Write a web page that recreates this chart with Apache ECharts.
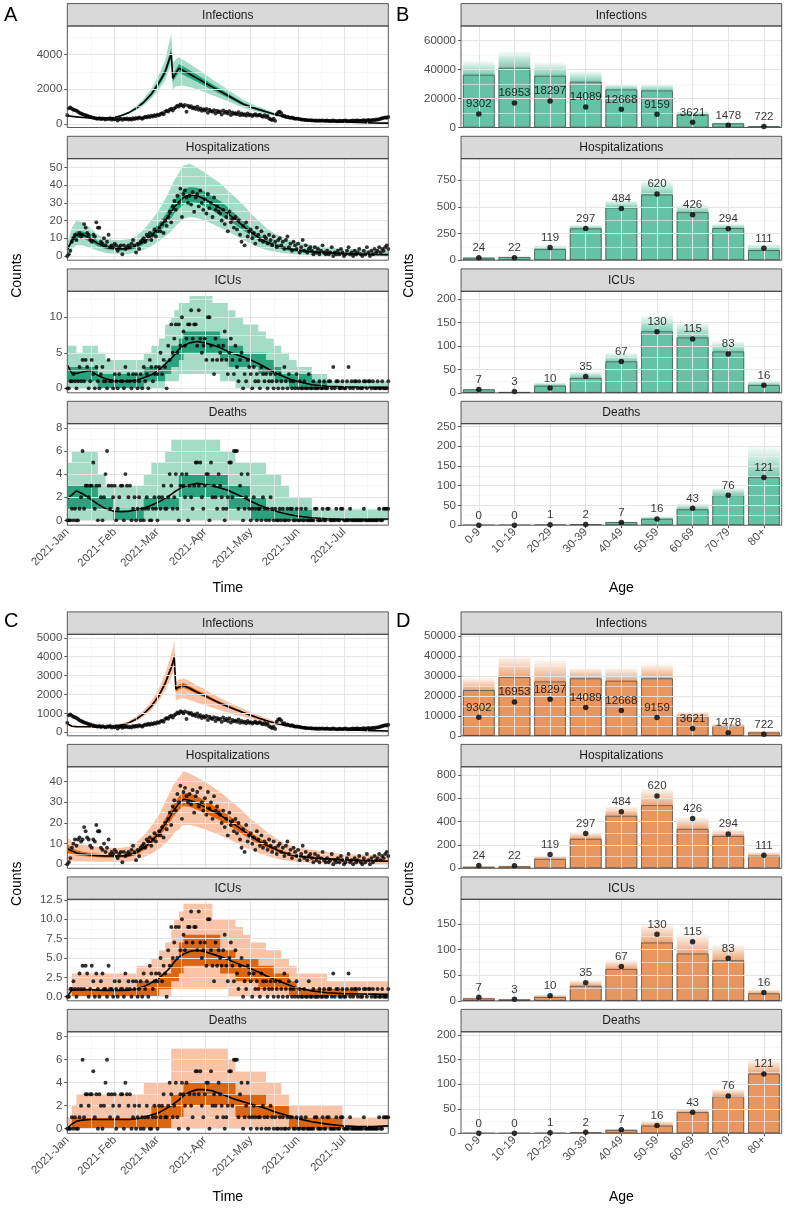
<!DOCTYPE html>
<html><head><meta charset="utf-8">
<script src="https://cdn.jsdelivr.net/npm/echarts@6/dist/echarts.min.js"></script>
<style>html,body{margin:0;padding:0;background:#fff}#c{width:786px;height:1209px}</style>
</head><body><div id="c"></div>
<script>
// ---------------- DATA ----------------
const panelNames = ['Infections', 'Hospitalizations', 'ICUs', 'Deaths'];
const ageGroups = ['0-9', '10-19', '20-29', '30-39', '40-49', '50-59', '60-69', '70-79', '80+'];
const monthStartDays = [0, 31, 59, 90, 120, 151, 181, 212];   // days since 2021-01-01
const monthLabels = ['2021-Jan', '2021-Feb', '2021-Mar', '2021-Apr', '2021-May', '2021-Jun', '2021-Jul'];

// observed daily counts, day 0 = 2021-01-01
const obsInfections = [
500,900,950,880,820,800,760,700,640,600, 560,520,500,470,430,420,380,360,340,320,
300,340,280,320,300,260,310,290,330,250, 300,270,320,200,290,310,240,300,280,320,
260,300,250,330,290,350,310,380,340,300, 360,420,380,450,400,470,430,500,460,540,
500,580,620,560,700,760,720,820,880,780, 900,960,1050,1000,1120,1080,1000,1100,700,1050,
980,1020,900,950,860,1000,820,900,760,850, 780,860,650,820,740,700,800,600,760,680,
720,550,780,640,700,600,740,520,660,580, 620,560,680,500,600,520,560,480,600,500,
540,460,520,560,480,500,540,460,420,500, 400,460,320,280,220,300,180,560,680,700,
620,460,480,400,420,380,350,370,330,300, 310,300,280,260,250,240,230,220,210,220,
200,210,190,200,180,200,190,210,180,190, 200,180,170,190,200,180,170,160,190,180,
170,190,200,180,160,170,190,200,180,200, 210,190,180,200,220,190,210,230,200,220,
240,220,260,250,280,300,330,350,380,360,400];
const obsHospitalizations = [
0,1,3,8,10,12,9,12,13,11, 12,18,16,13,12,9,8,12,11,19, 16,16,8,7,10,6,8,12,5,6,
5,7,6,3,5,6,1,6,4,5, 6,5,7,9,6,2,7,4,8,9, 10,8,12,11,13,9,12,15,11,14,
16,14,18,13,20,17,22,25,19,28, 31,26,34,30,38,22,35,37,33,30, 34,29,36,25,33,35,28,37,30,26,
32,24,35,27,30,22,33,26,28,25, 24,20,26,18,22,14,25,19,21,16, 22,15,20,12,8,17,6,19,11,14,
15,10,13,7,16,12,9,14,8,11, 10,7,12,9,6,11,8,5,9,10, 6,8,4,9,11,5,7,3,8,6,
4,7,2,5,9,3,6,2,4,5, 3,1,5,2,4,1,3,6,2,1, 3,1,2,5,0,2,1,3,1,4,
2,0,1,3,5,1,2,0,3,1, 2,4,1,0,3,1,5,2,0,3, 1,4,2,3,5,2,4,3,5,6,4];
const obsICUs = [
0,0,1,1,2,1,0,1,3,1, 4,1,4,3,0,1,4,2,0,3, 1,0,2,3,1,1,0,4,1,1,
0,2,1,0,2,1,1,0,3,1, 2,1,0,2,1,2,0,1,2,0, 3,1,2,0,4,3,1,2,3,2,
3,5,2,4,3,0,6,4,9,5, 7,9,5,9,6,10,8,6,7,9, 9,11,7,9,9,6,11,7,5,6,
7,4,10,10,6,4,2,7,4,6, 5,4,6,8,4,2,5,7,4,2, 6,3,1,4,5,0,2,1,4,3,
2,0,3,1,2,1,0,3,2,1, 2,0,1,2,1,0,2,1,0,2, 1,0,3,1,0,2,1,0,1,0,
2,0,1,0,0,1,0,0,2,0, 0,1,0,0,0,1,0,0,1,0, 0,1,1,0,3,0,1,1,0,0,
1,0,0,1,3,0,1,0,1,1, 0,1,0,0,1,1,0,1,1,0, 1,0,0,1,0,0,1,0,0,0,1];
const obsDeaths = [
0,0,0,1,0,1,0,0,1,2, 6,1,3,3,2,3,3,5,1,3, 0,3,2,0,2,4,6,3,1,3,
2,3,0,1,2,3,3,0,4,3, 2,3,0,1,2,0,1,2,0,1, 0,1,2,1,0,0,1,2,1,0,
2,1,2,3,1,1,2,4,3,1, 2,4,1,0,3,4,3,2,4,0, 3,2,1,3,5,5,3,5,2,1,
3,4,4,0,5,2,3,2,1,4, 3,2,1,0,1,2,5,5,2,6, 6,6,1,3,4,0,1,2,4,1,
0,1,2,1,0,1,1,0,2,1, 0,1,0,2,1,0,1,0,0,1, 0,1,0,0,1,0,1,1,0,0,
1,0,0,1,0,0,1,0,0,0, 0,0,1,1,0,0,0,1,0,0, 1,1,0,0,0,0,1,0,0,1,
1,0,0,0,0,1,0,0,0,0, 0,0,0,0,1,0,0,0,0,0, 0,0,0,0,1,0,0,1,1,1,1];

// model summaries sampled on these days
const modelDays = [0,3,6,10,15,20,25,30,35,40, 45,50,55,60,64,68,69,70,71,73, 76,80,85,90,95,100,105,110,115,120, 125,130,135,140,145,150,160,170,180,190, 200,210];

// Panel A (model 1)
const aInfMed  = [470,440,410,375,345,330,335,360,470,640, 900,1250,1720,2370,3000,4050,2630,2780,2920,3200, 3060,2870,2620,2370,2120,1880,1640,1390,1150,980, 840,700,570,460,380,310,210,150,115,85, 65,50];
const aInfLo50 = [455,425,398,363,335,320,325,348,445,600, 845,1170,1610,2210,2790,3760,2420,2560,2690,2950, 2820,2640,2410,2180,1950,1730,1510,1280,1060,900, 775,645,525,425,350,285,194,138,106,78, 60,46];
const aInfHi50 = [485,455,422,387,355,340,345,372,495,680, 955,1330,1830,2530,3210,4340,2840,3000,3150,3450, 3300,3100,2830,2560,2290,2030,1770,1500,1240,1060, 905,755,615,495,410,335,226,162,124,92, 70,54];
const aInfLo95 = [440,412,385,352,325,310,315,335,425,570, 790,1080,1470,2000,2500,3450,2000,2080,2150,2200, 2200,2120,1990,1825,1650,1480,1310,1120,935,800, 690,580,475,385,320,262,178,127,97,71, 54,41];
const aInfHi95 = [500,470,440,400,368,352,358,390,520,720, 1030,1450,2030,2850,3650,5200,3500,3600,3700,3830, 3680,3460,3160,2860,2560,2270,1980,1680,1390,1180, 1010,840,680,550,450,365,245,175,135,100, 76,58];

const aHospMed  = [3.5,9,12,12,10,7,5,4.3,4,4.3, 5.5,8,11.5,16,20,25,26,27.5,28.5,30.5, 33,34.5,34,32,29.5,27,24,20.5,17,13.5, 10.5,8,6.3,5,4,3.3,2.4,1.8,1.4,1.1, 0.9,0.8];
const aHospLo50 = [2.5,7,10,10,8,5.5,4,3.3,3,3.3, 4.3,6.5,9.5,13.5,17,21.5,22.5,24,25,26.5, 29,30.5,30,28,25.5,23,20.5,17.5,14.5,11.5, 8.8,6.6,5,3.9,3,2.4,1.6,1.1,0.8,0.6, 0.4,0.3];
const aHospHi50 = [4.5,11,14,14,12,8.5,6.3,5.4,5,5.4, 6.8,9.7,13.6,18.7,23.2,28.8,29.8,31.5,32.5,35, 37.5,39,38.5,36.3,33.5,31,27.5,23.7,19.7,15.7, 12.3,9.5,7.6,6.1,5,4.2,3.2,2.5,2,1.6, 1.3,1.2];
const aHospLo95 = [1,4,6,6,4.5,3,1.8,1.3,1.2,1.3, 2,3.5,5.5,8.5,11,14,15,16,17,18.5, 21,22,21.5,20,18,16,14,11.5,9,7, 5,3.5,2.5,1.8,1.2,0.8,0.3,0.1,0,0, 0,0];
const aHospHi95 = [7,16,20,19,16,12,10,9,9,9.5, 11,15,20,26,32,39,41,43,44,47, 51,52,50,47,44,41,37,33,29,24, 20,16,13,11,9,8,6,5,4,4, 3,3];

const aIcuMed  = [3.3,2.1,2.1,2.3,2.5,1.8,1.35,1.1,1.0,1.0, 1.15,1.5,1.9,2.6,3.4,4.2,4.4,4.7,4.9,5.5, 6.0,6.4,6.6,6.4,6.1,5.7,5.2,4.8,4.4,4.0, 3.5,2.9,2.3,1.8,1.35,1.0,0.5,0.3,0.22,0.18, 0.15,0.15];
const aIcuLo50 = [1,1,1,1,1,0,0,0,0,0, 0,1,1,1,2,3,3,3,3,4, 5,5,5,5,5,4,3,3,3,3, 2,2,1,1,0,0,0,0,0,0, 0,0];
const aIcuHi50 = [3,3,3,3,3,2,2,2,2,2, 2,3,3,3,4,6,6,6,6,7, 8,8,8,8,8,7,6,6,5,5, 5,4,3,2,2,2,1,0,0,0, 0,0];
const aIcuLo95 = [0,0,0,0,0,0,0,0,0,0, 0,0,0,0,1,1,1,1,1,2, 2,2,2,2,2,1,1,0,0,0, 0,0,0,0,0,0,0,0,0,0, 0,0];
const aIcuHi95 = [6,6,5,6,6,5,4,4,4,4, 4,5,6,7,9,10,10,11,11,12, 12,13,13,13,12,12,11,10,9,9, 8,7,6,5,4,3,2,1,1,1, 1,1];

const aDeathMed  = [1.85,2.2,2.55,2.3,1.85,1.4,1.0,0.8,0.75,0.78, 0.9,1.05,1.3,1.6,1.9,2.25,2.35,2.45,2.5,2.7, 2.9,3.05,3.2,3.1,3.0,2.8,2.6,2.3,2.0,1.65, 1.35,1.1,0.85,0.65,0.5,0.38,0.22,0.14,0.1,0.1, 0.1,0.12];
const aDeathLo50 = [1,1,1,1,1,1,1,0,0,0, 0,1,1,1,1,1,1,1,1,2, 2,2,2,2,2,2,1,1,1,0, 0,0,0,0,0,0,0,0,0,0, 0,0];
const aDeathHi50 = [3,3,3,3,3,2,2,1,1,1, 1,2,2,2,2,2,2,2,2,4, 4,4,4,4,4,4,3,3,3,2, 2,1,1,1,1,1,0,0,0,0, 0,0];
const aDeathLo95 = [0,0,0,0,0,0,0,0,0,0, 0,0,0,0,0,0,0,0,0,0, 0,0,0,0,0,0,0,0,0,0, 0,0,0,0,0,0,0,0,0,0, 0,0];
const aDeathHi95 = [5,6,6,6,6,4,3,3,3,3, 3,4,5,5,6,7,7,7,7,7, 7,7,7,7,7,6,6,5,5,5, 5,4,4,3,2,2,1,1,1,1, 1,1];

// Panel C (model 2)
const cInfMed  = [450,320,300,295,290,285,290,320,380,490, 690,980,1380,1950,2590,3430,3680,3950,2280,2400, 2480,2330,2120,1940,1730,1540,1370,1210,1050,900, 760,625,500,410,340,285,215,170,140,115, 90,70];
const cInfLo50 = [428,304,285,280,276,271,276,304,361,466, 656,931,1311,1853,2460,3260,3500,3750,2150,2270, 2350,2210,2010,1840,1640,1460,1300,1150,1000,855, 722,594,475,390,323,271,204,162,133,109, 86,67];
const cInfHi50 = [472,336,315,310,305,299,305,336,399,515, 725,1029,1449,2048,2720,3600,3860,4150,2410,2530, 2610,2450,2230,2040,1820,1620,1440,1270,1100,945, 798,656,525,430,357,299,226,178,147,121, 94,73];
const cInfLo95 = [380,280,270,265,260,255,260,285,335,420, 590,830,1170,1650,2200,2900,3100,3300,1700,1760, 1800,1710,1570,1450,1300,1170,1050,935,820,710, 600,500,405,335,280,235,178,140,116,95, 74,57];
const cInfHi95 = [520,370,350,345,340,335,340,380,450,590, 830,1180,1660,2340,3110,4130,4450,4880,2680,2800, 2860,2700,2470,2270,2030,1810,1620,1430,1250,1080, 915,755,605,495,410,345,260,205,170,140, 110,86];

const cHospMed  = [7.5,6.5,5.5,5,4.5,4.2,4,4,4,4.2, 5.5,8,11,15,19.5,24,25.5,26.5,27.5,29.5, 31.5,31,29.5,27.8,25.8,23.8,21.5,19,16.3,13.7, 11.3,9.3,7.6,6,4.8,4,3.2,2.6,2.2,1.9, 1.7,1.5];
const cHospLo50 = [5.5,5,4.3,4,3.6,3.4,3.2,3.2,3.2,3.4, 4.5,6.8,9.5,13.2,17.2,21.3,22.7,23.6,24.5,26.3, 28.2,27.8,26.4,24.8,23,21.2,19.1,16.8,14.3,12, 9.8,8,6.5,5.1,4,3.3,2.6,2.1,1.7,1.5, 1.3,1.1];
const cHospHi50 = [9.5,8,6.8,6.1,5.5,5.1,4.9,4.9,4.9,5.1, 6.6,9.3,12.6,17,22,26.8,28.4,29.5,30.6,32.8, 35,34.4,32.8,30.9,28.7,26.5,24,21.3,18.3,15.4, 12.8,10.6,8.7,6.9,5.6,4.8,3.9,3.2,2.8,2.4, 2.2,2];
const cHospLo95 = [1,1.5,1.5,1.5,1.3,1.2,1.2,1.2,1.2,1.3, 2,3.5,5,7.5,10,13,14,15,16,17, 19,19,18,17,15.5,14,12.5,10.5,8.5,7, 5.5,4.2,3,2.2,1.6,1.2,0.8,0.5,0.3,0.2, 0.2,0.1];
const cHospHi95 = [13,11,10,9.5,9,8.5,8,8,8,8.5, 10.5,14,18.5,24,30,36,38,39,40,42, 45,44,42,40,37.5,35,32,29,25.5,22, 19,16,13.5,11,9.5,8,7,6,5,5, 4.5,4];

const cIcuMed  = [0.05,0.85,0.9,0.9,0.9,0.85,0.82,0.8,0.8,0.85, 1.0,1.3,1.8,2.4,3.1,3.9,4.2,4.5,4.7,5.1, 5.5,5.85,6.0,5.8,5.5,5.2,4.8,4.4,4.0,3.6, 3.2,2.7,2.3,1.9,1.5,1.15,0.75,0.5,0.4,0.35, 0.33,0.3];
const cIcuLo50 = [0,0,0,0,0,0,0,0,0,0, 0,0,0,1,1,2,2,2,2,3, 4,4,4,4,4,3,3,2,2,2, 1,1,1,1,0,0,0,0,0,0, 0,0];
const cIcuHi50 = [0,1,1,1,1,1,1,1,1,1, 2,2,2,3,3,5,5,5,5,7, 8,8,8,8,8,6,6,5,5,5, 4,4,3,3,2,1,1,1,1,0, 0,0];
const cIcuLo95 = [0,0,0,0,0,0,0,0,0,0, 0,0,0,0,0,1,1,1,1,1, 1,1,1,1,1,1,0,0,0,0, 0,0,0,0,0,0,0,0,0,0, 0,0];
const cIcuHi95 = [1,3,3,3,3,3,3,3,3,3, 4,4,5,6,7,9,9,10,10,11, 12,12,12,12,10,10,10,9,8,7, 7,6,6,5,4,3,3,2,2,2, 2,2];

const cDeathMed  = [0.05,0.4,0.65,0.75,0.8,0.8,0.8,0.8,0.8,0.8, 0.85,1.0,1.2,1.4,1.7,2.0,2.1,2.2,2.3,2.5, 2.85,3.2,3.4,3.4,3.3,3.05,2.8,2.55,2.35,2.15, 1.95,1.75,1.5,1.3,1.1,0.9,0.6,0.4,0.25,0.18, 0.18,0.25];
const cDeathLo50 = [0,0,0,0,0,0,0,0,0,0, 0,0,0,0,0,1,1,1,1,1, 2,2,2,2,2,2,2,1,1,1, 1,1,1,1,0,0,0,0,0,0, 0,0];
const cDeathHi50 = [0,1,1,1,1,1,1,1,1,1, 1,1,2,2,2,3,3,3,3,3, 4,4,4,4,4,4,4,3,3,3, 3,2,2,2,1,1,1,1,0,0, 0,0];
const cDeathLo95 = [0,0,0,0,0,0,0,0,0,0, 0,0,0,0,0,0,0,0,0,0, 0,0,0,0,0,0,0,0,0,0, 0,0,0,0,0,0,0,0,0,0, 0,0];
const cDeathHi95 = [1,2,3,3,3,3,3,3,3,3, 3,4,4,4,4,7,7,7,7,7, 7,7,7,7,7,7,6,5,5,5, 5,4,4,3,2,2,2,2,1,1, 1,1];

// observed totals by age
const obsAgeInfections = [9302, 16953, 18297, 14089, 12668, 9159, 3621, 1478, 722];
const obsAgeHospitalizations = [24, 22, 119, 297, 484, 620, 426, 294, 111];
const obsAgeICUs = [7, 3, 10, 35, 67, 130, 115, 83, 16];
const obsAgeDeaths = [0, 0, 1, 2, 7, 16, 43, 76, 121];

// Panel B: model 1 by age (mean, and upper reach of posterior samples)
const bInfMean = [36350, 41170, 35650, 31500, 26200, 25500, 8970, 2760, 900];
const bInfTop  = [45700, 52600, 44800, 38800, 29700, 29700, 11200, 3650, 1200];
const bHospMean = [22, 30, 103, 297, 493, 615, 449, 300, 94];
const bHospTop  = [30, 35, 140, 330, 560, 740, 520, 340, 150];
const bIcuMean = [7.2, 1.5, 15, 31.5, 67, 131, 118, 88, 16.5];
const bIcuTop  = [9, 3, 22, 45, 85, 165, 150, 110, 25];
const bDeathMean = [0.2, 0.2, 1, 2, 7.6, 16, 40, 76, 122];
const bDeathTop  = [0.5, 0.5, 2, 4, 10, 22, 55, 95, 200];
// Panel D: model 2 by age
const dInfMean = [22850, 29350, 27150, 28700, 27500, 28700, 9650, 4850, 1650];
const dInfTop  = [29000, 40000, 38000, 34000, 34000, 36000, 12000, 6000, 2500];
const dHospMean = [12, 17, 80, 252, 449, 540, 337, 277, 106];
const dHospTop  = [20, 25, 110, 310, 530, 680, 440, 330, 140];
const dIcuMean = [4.5, 2.5, 7.3, 29, 62, 113.6, 92, 79, 14.4];
const dIcuTop  = [7, 4, 12, 40, 80, 150, 130, 110, 22];
const dDeathMean = [0.2, 0.2, 0.5, 1.5, 6.8, 15.5, 43, 75.5, 121.6];
const dDeathTop  = [0.5, 0.5, 1, 3, 9, 25, 50, 90, 150];

// tick labels
const aInfTicks = [0, 2000, 4000], aHospTicks = [0, 10, 20, 30, 40, 50], aIcuTicks = [0, 5, 10], aDeathTicks = [0, 2, 4, 6, 8];
const cInfTicks = [0, 1000, 2000, 3000, 4000, 5000], cHospTicks = [0, 10, 20, 30, 40], cIcuTicks = [0, 2.5, 5, 7.5, 10, 12.5], cDeathTicks = [0, 2, 4, 6, 8];
const bInfTicks = [0, 20000, 40000, 60000], bHospTicks = [0, 250, 500, 750], bIcuTicks = [0, 50, 100, 150, 200], bDeathTicks = [0, 50, 100, 150, 200, 250];
const dInfTicks = [0, 10000, 20000, 30000, 40000, 50000], dHospTicks = [0, 200, 400, 600, 800], dIcuTicks = [0, 50, 100, 150], dDeathTicks = [0, 50, 100, 150, 200];

// ---------------- LAYOUT / STYLE ----------------
const FONT = '"Liberation Sans", Arial, Helvetica, sans-serif';
const colX = [67.3, 461];
const PW = [321, 320.7];
const PH = 101.5, SH = 22.4;
const rowTops = [[26, 158.7, 291.3, 423.7], [634.3, 766.8, 899.3, 1031.8]];
const XMAX = 210;
const MAJOR = '#e4e4e4', MINOR = '#f1f1f1';

const timeBlocks = [
  { f95: '#a5dcc8', f50: '#2ba27d', panels: [
    { obs: obsInfections, med: aInfMed, lo50: aInfLo50, hi50: aInfHi50, lo95: aInfLo95, hi95: aInfHi95, ticks: aInfTicks, min: -201, max: 5632, step: false },
    { obs: obsHospitalizations, med: aHospMed, lo50: aHospLo50, hi50: aHospHi50, lo95: aHospLo95, hi95: aHospHi95, ticks: aHospTicks, min: -2.37, max: 54.9, step: false },
    { obs: obsICUs, med: aIcuMed, lo50: aIcuLo50, hi50: aIcuHi50, lo95: aIcuLo95, hi95: aIcuHi95, ticks: aIcuTicks, min: -0.63, max: 13.66, step: true },
    { obs: obsDeaths, med: aDeathMed, lo50: aDeathLo50, hi50: aDeathHi50, lo95: aDeathLo95, hi95: aDeathHi95, ticks: aDeathTicks, min: -0.42, max: 8.36, step: true }
  ]},
  { f95: '#f9c3a8', f50: '#dc6511', panels: [
    { obs: obsInfections, med: cInfMed, lo50: cInfLo50, hi50: cInfHi50, lo95: cInfLo95, hi95: cInfHi95, ticks: cInfTicks, min: -185, max: 5185, step: false },
    { obs: obsHospitalizations, med: cHospMed, lo50: cHospLo50, hi50: cHospHi50, lo95: cHospLo95, hi95: cHospHi95, ticks: cHospTicks, min: -1.94, max: 47.2, step: false },
    { obs: obsICUs, med: cIcuMed, lo50: cIcuLo50, hi50: cIcuHi50, lo95: cIcuLo95, hi95: cIcuHi95, ticks: cIcuTicks, min: -0.53, max: 12.58, step: true, dec: 1 },
    { obs: obsDeaths, med: cDeathMed, lo50: cDeathLo50, hi50: cDeathHi50, lo95: cDeathLo95, hi95: cDeathHi95, ticks: cDeathTicks, min: -0.4, max: 8.43, step: true }
  ]}
];
const barBlocks = [
  { fill: '#66c2a5', panels: [
    { mean: bInfMean, top: bInfTop, obs: obsAgeInfections, ticks: bInfTicks, max: 70000 },
    { mean: bHospMean, top: bHospTop, obs: obsAgeHospitalizations, ticks: bHospTicks, max: 951 },
    { mean: bIcuMean, top: bIcuTop, obs: obsAgeICUs, ticks: bIcuTicks, max: 216.5 },
    { mean: bDeathMean, top: bDeathTop, obs: obsAgeDeaths, ticks: bDeathTicks, max: 257.2 }
  ]},
  { fill: '#e8965f', panels: [
    { mean: dInfMean, top: dInfTop, obs: obsAgeInfections, ticks: dInfTicks, max: 50750 },
    { mean: dHospMean, top: dHospTop, obs: obsAgeHospitalizations, ticks: dHospTicks, max: 869 },
    { mean: dIcuMean, top: dIcuTop, obs: obsAgeICUs, ticks: dIcuTicks, max: 198 },
    { mean: dDeathMean, top: dDeathTop, obs: obsAgeDeaths, ticks: dDeathTicks, max: 207 }
  ]}
];

function rgba(hex, a) {
  const n = parseInt(hex.slice(1), 16);
  return 'rgba(' + (n >> 16 & 255) + ',' + (n >> 8 & 255) + ',' + (n & 255) + ',' + a + ')';
}
function minorsOf(t, lo, hi) {
  const s = t[1] - t[0], out = [];
  for (let v = t[0] - s / 2; v < hi; v += s) if (v > lo + 1e-9 && v < hi - 1e-9) out.push(+v.toFixed(6));
  return out;
}
function gridLineSeries(gi, hMajor, hMinor, vMajor, vMinor, firstPoint) {
  const d = [];
  hMinor.forEach(v => d.push({ yAxis: v, lineStyle: { color: MINOR, width: 0.6, type: 'solid' } }));
  vMinor.forEach(v => d.push({ xAxis: v, lineStyle: { color: MINOR, width: 0.6, type: 'solid' } }));
  hMajor.forEach(v => d.push({ yAxis: v, lineStyle: { color: MAJOR, width: 1, type: 'solid' } }));
  vMajor.forEach(v => d.push({ xAxis: v, lineStyle: { color: MAJOR, width: 1, type: 'solid' } }));
  return { type: 'line', xAxisIndex: gi, yAxisIndex: gi, data: [firstPoint], symbol: 'none', showSymbol: false,
    lineStyle: { opacity: 0 }, z: 1, silent: true, animation: false,
    markLine: { silent: true, symbol: ['none', 'none'], label: { show: false }, animation: false, emphasis: { disabled: true }, data: d } };
}
function ribbon(days, lo, hi, step, color) {
  return function (params, api) {
    if (params.dataIndex !== 0) return null;
    const up = [], dn = [];
    for (let i = 0; i < days.length; i++) {
      up.push(api.coord([days[i], hi[i]]));
      if (step && i < days.length - 1) up.push(api.coord([days[i + 1], hi[i]]));
    }
    for (let i = days.length - 1; i >= 0; i--) {
      if (step && i < days.length - 1) dn.push(api.coord([days[i + 1], lo[i]]));
      dn.push(api.coord([days[i], lo[i]]));
    }
    return { type: 'polygon', shape: { points: up.concat(dn) }, style: { fill: color }, silent: true };
  };
}

const grids = [], xAxes = [], yAxes = [], series = [], graphics = [];
const tickLine = { show: true, length: 3, lineStyle: { color: '#333333', width: 0.8 } };
const labelBase = { color: '#4d4d4d', fontSize: 11.5, fontFamily: FONT };

for (let b = 0; b < 2; b++) {
  for (let c = 0; c < 2; c++) {
    for (let r = 0; r < 4; r++) {
      const gi = b * 8 + c * 4 + r;
      const top = rowTops[b][r], left = colX[c], w = PW[c];
      const bottomRow = r === 3;
      grids.push({ left: left, top: top, width: w, height: PH, containLabel: false });
      // strip + border
      graphics.push({ type: 'rect', shape: { x: left, y: top - SH, width: w, height: SH }, style: { fill: '#d9d9d9', stroke: '#333333', lineWidth: 0.8 }, z: 50, silent: true });
      graphics.push({ type: 'text', x: left + w / 2, y: top - SH / 2 + 0.5, style: { text: panelNames[r], fill: '#1a1a1a', font: '12px ' + FONT, align: 'center', verticalAlign: 'middle', textAlign: 'center', textVerticalAlign: 'middle' }, z: 51, silent: true });
      graphics.push({ type: 'rect', shape: { x: left, y: top, width: w, height: PH }, style: { fill: 'none', stroke: '#333333', lineWidth: 0.8 }, z: 50, silent: true });

      if (c === 0) {
        const blk = timeBlocks[b], p = blk.panels[r];
        const dec = p.dec || 0;
        const monthTicks = monthStartDays.filter(v => v <= XMAX);
        const monthMinor = [];
        for (let i = 0; i < monthStartDays.length - 1; i++) monthMinor.push((monthStartDays[i] + monthStartDays[i + 1]) / 2);
        xAxes.push({ type: 'value', gridIndex: gi, min: 0, max: XMAX, splitLine: { show: false }, axisLine: { show: false },
          axisTick: Object.assign({ customValues: monthTicks }, tickLine, { show: bottomRow }),
          axisLabel: Object.assign({ show: bottomRow, customValues: monthTicks, rotate: 45, margin: 5,
            formatter: v => monthLabels[monthStartDays.indexOf(v)] || '' }, labelBase) });
        yAxes.push({ type: 'value', gridIndex: gi, min: p.min, max: p.max, splitLine: { show: false }, axisLine: { show: false },
          axisTick: Object.assign({ customValues: p.ticks }, tickLine),
          axisLabel: Object.assign({ customValues: p.ticks, margin: 5, formatter: v => Number(v).toFixed(dec) }, labelBase) });
        series.push(gridLineSeries(gi, p.ticks, minorsOf(p.ticks, p.min, p.max), monthTicks, monthMinor.filter(v => v < XMAX), [0, p.min]));
        const rib = modelDays.map((d, i) => [d, p.lo95[i], p.hi95[i]]);
        series.push({ type: 'custom', xAxisIndex: gi, yAxisIndex: gi, z: 2, silent: true, animation: false, data: rib,
          renderItem: ribbon(modelDays, p.lo95, p.hi95, p.step, blk.f95) });
        series.push({ type: 'custom', xAxisIndex: gi, yAxisIndex: gi, z: 3, silent: true, animation: false, data: rib,
          renderItem: ribbon(modelDays, p.lo50, p.hi50, p.step, blk.f50) });
        series.push({ type: 'line', xAxisIndex: gi, yAxisIndex: gi, z: 4, silent: true, animation: false, symbol: 'none',
          data: modelDays.map((d, i) => [d, p.med[i]]), lineStyle: { color: '#000000', width: 1.6 } });
        series.push({ type: 'scatter', xAxisIndex: gi, yAxisIndex: gi, z: 5, silent: true, animation: false, clip: false,
          symbolSize: 3.9, itemStyle: { color: '#000000' }, data: p.obs.map((v, i) => [i, v]) });
      } else {
        const blk = barBlocks[b], p = blk.panels[r];
        xAxes.push({ type: 'category', gridIndex: gi, data: ageGroups, splitLine: { show: false }, axisLine: { show: false },
          axisTick: Object.assign({}, tickLine, { show: bottomRow, alignWithLabel: true }),
          axisLabel: Object.assign({ show: bottomRow, rotate: 45, margin: 5, interval: 0 }, labelBase) });
        yAxes.push({ type: 'value', gridIndex: gi, min: 0, max: p.max, splitLine: { show: false }, axisLine: { show: false },
          axisTick: Object.assign({ customValues: p.ticks }, tickLine),
          axisLabel: Object.assign({ customValues: p.ticks, margin: 5, formatter: v => String(Math.round(v)) }, labelBase) });
        series.push(gridLineSeries(gi, p.ticks, minorsOf(p.ticks, 0, p.max), ageGroups.map((g, i) => i), [], [0, 0]));
        const common = { type: 'bar', xAxisIndex: gi, yAxisIndex: gi, barGap: '-100%', barCategoryGap: '11%', silent: true, animation: false };
        series.push(Object.assign({}, common, { z: 2, data: p.top.map((t, i) => ({ value: t, itemStyle: { color: new echarts.graphic.LinearGradient(0, 0, 0, 1, [
          { offset: 0, color: rgba(blk.fill, 0.05) },
          { offset: Math.max(0, Math.min(1, (t - p.mean[i]) / t)), color: rgba(blk.fill, 0.85) },
          { offset: 1, color: rgba(blk.fill, 0.85) }]) } })) }));
        series.push(Object.assign({}, common, { z: 2, data: p.mean, itemStyle: { color: blk.fill } }));
        series.push(Object.assign({}, common, { z: 3, data: p.mean, itemStyle: { color: 'rgba(0,0,0,0)', borderColor: '#555555', borderWidth: 0.8 } }));
        series.push({ type: 'scatter', xAxisIndex: gi, yAxisIndex: gi, z: 6, silent: true, animation: false, clip: false,
          symbolSize: 5.5, itemStyle: { color: '#000000' }, data: p.obs,
          label: { show: true, position: 'top', distance: 1, color: '#000000', fontSize: 11.5, fontFamily: FONT, formatter: q => String(q.value) } });
      }
    }
  }
}

// titles and axis names
const letters = [['A', 4, 15], ['B', 396, 15], ['C', 4, 621], ['D', 396, 621]];
letters.forEach(L => graphics.push({ type: 'text', x: L[1], y: L[2], style: { text: L[0], fill: '#000', font: '20px ' + FONT, align: 'left', verticalAlign: 'middle', textAlign: 'left', textVerticalAlign: 'middle' }, z: 60 }));
for (let b = 0; b < 2; b++) {
  const yMid = (rowTops[b][0] + rowTops[b][3] + PH) / 2;
  const yTitle = b === 0 ? 588 : 1197;
  [[17, 0], [409, 1]].forEach(([x, c]) => graphics.push({ type: 'text', x: x, y: yMid, rotation: Math.PI / 2,
    style: { text: 'Counts', fill: '#000', font: '14px ' + FONT, align: 'center', verticalAlign: 'middle', textAlign: 'center', textVerticalAlign: 'middle' }, z: 60 }));
  graphics.push({ type: 'text', x: colX[0] + PW[0] / 2, y: yTitle, style: { text: 'Time', fill: '#000', font: '14px ' + FONT, align: 'center', verticalAlign: 'middle', textAlign: 'center', textVerticalAlign: 'middle' }, z: 60 });
  graphics.push({ type: 'text', x: colX[1] + PW[1] / 2, y: yTitle, style: { text: 'Age', fill: '#000', font: '14px ' + FONT, align: 'center', verticalAlign: 'middle', textAlign: 'center', textVerticalAlign: 'middle' }, z: 60 });
}

const chart = echarts.init(document.getElementById('c'), null, { renderer: 'canvas', width: 786, height: 1209 });
chart.setOption({ animation: false, backgroundColor: '#ffffff', textStyle: { fontFamily: FONT },
  grid: grids, xAxis: xAxes, yAxis: yAxes, series: series, graphic: { elements: graphics } });
</script></body></html>
